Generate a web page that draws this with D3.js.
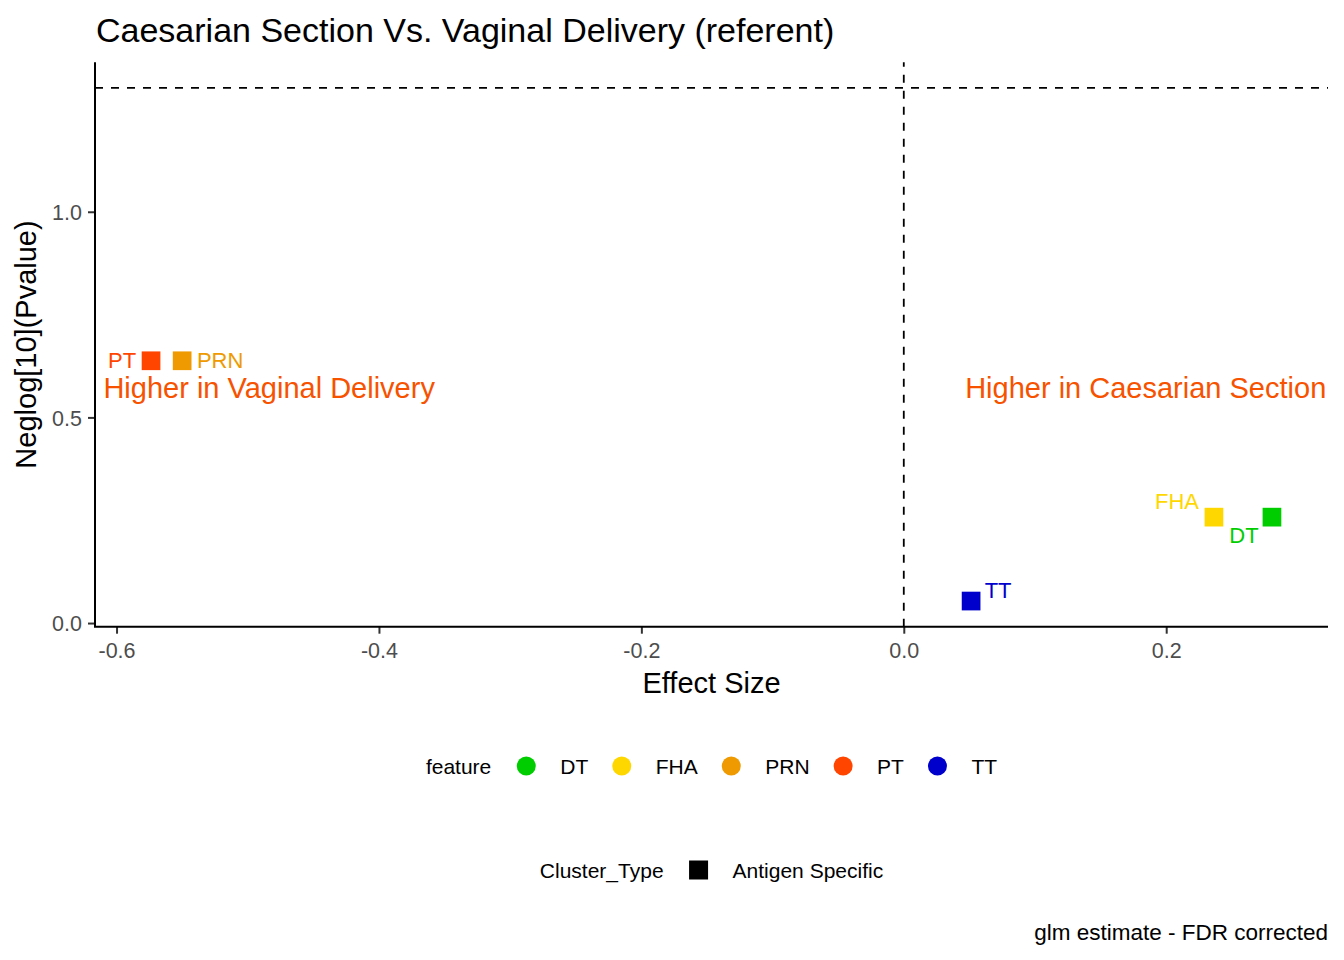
<!DOCTYPE html>
<meta charset="utf-8" />
<script src="https://d3js.org/d3.v7.js"></script>
<style>
  body { margin: 0; background: white; }
  text { font-family: "Liberation Sans", Arial, sans-serif; }
</style>
<div id="chart"></div>
<script>
  // data
  const features = ["DT", "FHA", "PRN", "PT", "TT"];
  const featureColors = ["#00CD00", "#FFD700", "#EE9A00", "#FF4500", "#0000CD"];
  const effectSize = [0.2806, 0.2364, -0.55, -0.5737, 0.0513];
  const neglogP = [0.2575, 0.2575, 0.6377, 0.6377, 0.0535];
  const clusterTypes = ["Antigen Specific"];

  const xTicks = [-0.6, -0.4, -0.2, 0.0, 0.2];
  const yTicks = [0.0, 0.5, 1.0];
  const pThreshold = -Math.log10(0.05);

  const annoText = ["Higher in Vaginal Delivery", "Higher in Caesarian Section"];
  const annoX = [-0.61, 0.322];
  const annoY = [0.573, 0.573];

  const width = 1344;
  const height = 960;
  const plot = { left: 95, right: 1328, top: 62.3, bottom: 626.7 };
  const annoColor = "#F75200";

  // label nudges (ggrepel result), in pixels
  const labelNudge = {
    DT: [-28, 18],
    FHA: [-37, -16],
    PRN: [38, -1],
    PT: [-29, -1],
    TT: [27, -11],
  };

  const data = features.map((f, i) => ({
    feature: f,
    color: featureColors[i],
    x: effectSize[i],
    y: neglogP[i],
  }));

  function expand(lo, hi) {
    const pad = (hi - lo) * 0.05;
    return [lo - pad, hi + pad];
  }

  const xs = d3
    .scaleLinear()
    .domain(expand(d3.min(effectSize), d3.max(effectSize.concat([0]))))
    .range([plot.left, plot.right]);
  const ys = d3
    .scaleLinear()
    .domain(expand(d3.min(neglogP), d3.max(neglogP.concat([pThreshold]))))
    .range([plot.bottom, plot.top]);

  // plain hyphen for negatives, like R
  const fmt = (d) => d3.format(".1f")(d).replace("\u2212", "-");

  const svg = d3
    .select("#chart")
    .append("svg")
    .attr("width", width)
    .attr("height", height);

  // title
  svg
    .append("text")
    .attr("x", 96)
    .attr("y", 41.7)
    .style("font-size", "34px")
    .style("fill", "black")
    .text("Caesarian Section Vs. Vaginal Delivery (referent)");

  // reference lines
  svg
    .append("line")
    .attr("x1", plot.left)
    .attr("x2", plot.right)
    .attr("y1", ys(pThreshold))
    .attr("y2", ys(pThreshold))
    .attr("stroke", "black")
    .attr("stroke-width", 1.8)
    .attr("stroke-dasharray", "8,8");
  svg
    .append("line")
    .attr("x1", xs(0))
    .attr("x2", xs(0))
    .attr("y1", plot.bottom)
    .attr("y2", plot.top)
    .attr("stroke", "black")
    .attr("stroke-width", 1.8)
    .attr("stroke-dasharray", "8,8");

  // axes
  const xAxis = svg
    .append("g")
    .attr("transform", `translate(0,${plot.bottom})`)
    .call(d3.axisBottom(xs).tickValues(xTicks).tickSize(7).tickFormat(fmt));
  const yAxis = svg
    .append("g")
    .attr("transform", `translate(${plot.left},0)`)
    .call(
      d3.axisLeft(ys).tickValues(yTicks).tickSize(7).tickPadding(6).tickFormat(fmt)
    );

  [xAxis, yAxis].forEach(function (ax) {
    ax.select(".domain").remove();
    ax.selectAll(".tick line").attr("stroke", "#333333").attr("stroke-width", 2);
    ax.selectAll(".tick text")
      .style("font-size", "21.5px")
      .style("font-family", '"Liberation Sans", Arial, sans-serif')
      .attr("fill", "#4D4D4D");
  });
  xAxis.selectAll(".tick text").attr("dy", "0.71em").attr("y", 16);
  yAxis.selectAll(".tick text").attr("dy", "0.36em");

  svg
    .append("path")
    .attr("d", `M${plot.left},${plot.top}V${plot.bottom}H${plot.right}`)
    .attr("fill", "none")
    .attr("stroke", "black")
    .attr("stroke-width", 2);

  // axis titles
  svg
    .append("text")
    .attr("x", (plot.left + plot.right) / 2)
    .attr("y", 693.4)
    .attr("text-anchor", "middle")
    .style("font-size", "29px")
    .text("Effect Size");
  svg
    .append("text")
    .attr("transform", `translate(36,${(plot.top + plot.bottom) / 2}) rotate(-90)`)
    .attr("text-anchor", "middle")
    .style("font-size", "29px")
    .text("Neglog[10](Pvalue)");

  // annotations
  svg
    .selectAll(".anno")
    .data(annoText)
    .enter()
    .append("text")
    .attr("class", "anno")
    .attr("x", (d, i) => xs(annoX[i]))
    .attr("y", (d, i) => ys(annoY[i]))
    .attr("dy", "0.36em")
    .attr("text-anchor", (d, i) => (i === 0 ? "start" : "end"))
    .style("font-size", "29px")
    .style("fill", annoColor)
    .text((d) => d);

  // points
  const sq = 18.7;
  svg
    .append("g")
    .selectAll("rect")
    .data(data)
    .enter()
    .append("rect")
    .attr("x", (d) => xs(d.x) - sq / 2)
    .attr("y", (d) => ys(d.y) - sq / 2)
    .attr("width", sq)
    .attr("height", sq)
    .attr("fill", (d) => d.color);

  // point labels
  svg
    .append("g")
    .selectAll("text")
    .data(data)
    .enter()
    .append("text")
    .attr("x", (d) => xs(d.x) + labelNudge[d.feature][0])
    .attr("y", (d) => ys(d.y) + labelNudge[d.feature][1])
    .attr("dy", "0.36em")
    .attr("text-anchor", "middle")
    .style("font-size", "22px")
    .style("fill", (d) => d.color)
    .text((d) => d.feature);

  // legends, centred on the panel
  const centreX = (plot.left + plot.right) / 2;

  function drawLegend(y, title, labels, drawKey) {
    const g = svg.append("g");
    let cx = 0;
    const t = g
      .append("text")
      .attr("x", cx)
      .attr("y", y)
      .attr("dy", "0.36em")
      .style("font-size", "21px")
      .text(title);
    cx += t.node().getComputedTextLength() + 35;
    labels.forEach(function (lab, i) {
      drawKey(g, cx, y, i);
      cx += 34;
      const lt = g
        .append("text")
        .attr("x", cx)
        .attr("y", y)
        .attr("dy", "0.36em")
        .style("font-size", "21px")
        .text(lab);
      cx += lt.node().getComputedTextLength();
      if (i < labels.length - 1) cx += 33.5;
    });
    g.attr("transform", `translate(${centreX - cx / 2},0)`);
  }

  drawLegend(766, "feature", features, function (g, cx, y, i) {
    g.append("circle")
      .attr("cx", cx)
      .attr("cy", y)
      .attr("r", 9.5)
      .attr("fill", featureColors[i]);
  });

  drawLegend(870, "Cluster_Type", clusterTypes, function (g, cx, y) {
    g.append("rect")
      .attr("x", cx - 9.5)
      .attr("y", y - 9.5)
      .attr("width", 19)
      .attr("height", 19)
      .attr("fill", "black");
  });

  // caption
  svg
    .append("text")
    .attr("x", 1328)
    .attr("y", 939.5)
    .attr("text-anchor", "end")
    .style("font-size", "22.5px")
    .text("glm estimate - FDR corrected");
</script>
